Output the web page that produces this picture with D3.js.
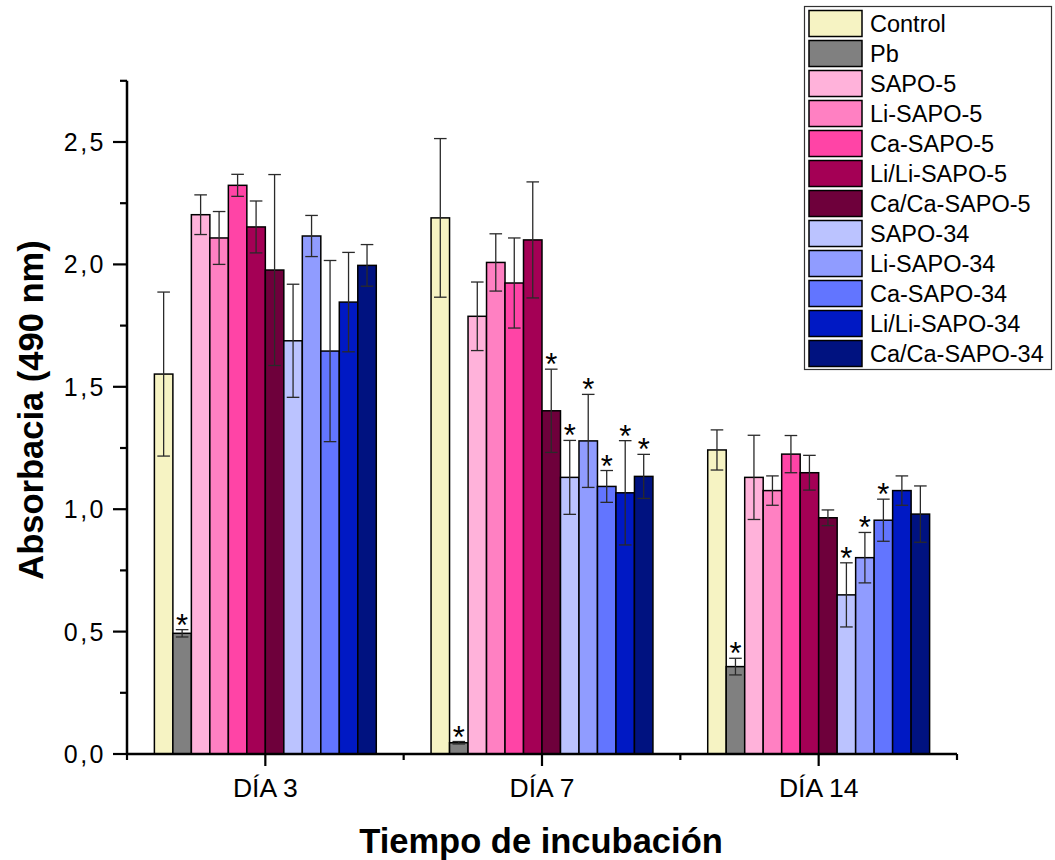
<!DOCTYPE html>
<html>
<head>
<meta charset="utf-8">
<script src="https://cdn.jsdelivr.net/npm/d3@7"></script>
<style>
  html, body { margin: 0; padding: 0; background: #fff; }
  svg { display: block; font-family: "Liberation Sans", Arial, sans-serif; }
</style>
</head>
<body>
<svg id="chart" width="1055" height="860"></svg>
<script>
// Incubation days (x categories)
const days = ["DÍA 3", "DÍA 7", "DÍA 14"];

// Treatments, in bar / legend order
const seriesNames = ["Control", "Pb", "SAPO-5", "Li-SAPO-5", "Ca-SAPO-5", "Li/Li-SAPO-5",
  "Ca/Ca-SAPO-5", "SAPO-34", "Li-SAPO-34", "Ca-SAPO-34", "Li/Li-SAPO-34", "Ca/Ca-SAPO-34"];

const seriesColors = ["#F6F3C3", "#808080", "#FFB2DA", "#FF80C2", "#FF44A6", "#A40055",
  "#6E003B", "#BBC3FF", "#909CFF", "#6275FF", "#0019C4", "#001280"];

// Mean absorbance (490 nm) per treatment: [día 3, día 7, día 14]
const meanControl   = [1.552, 2.190, 1.242];
const meanPb        = [0.493, 0.046, 0.357];
const meanSapo5     = [2.203, 1.788, 1.130];
const meanLiSapo5   = [2.108, 2.008, 1.076];
const meanCaSapo5   = [2.323, 1.924, 1.225];
const meanLiLiSapo5 = [2.153, 2.100, 1.149];
const meanCaCaSapo5 = [1.977, 1.402, 0.965];
const meanSapo34    = [1.688, 1.130, 0.650];
const meanLiSapo34  = [2.116, 1.279, 0.802];
const meanCaSapo34  = [1.646, 1.093, 0.955];
const meanLiLiSapo34 = [1.846, 1.067, 1.076];
const meanCaCaSapo34 = [1.996, 1.134, 0.980];

// Standard deviation per treatment
const sdControl   = [0.335, 0.324, 0.082];
const sdPb        = [0.015, 0.005, 0.034];
const sdSapo5     = [0.081, 0.140, 0.172];
const sdLiSapo5   = [0.108, 0.117, 0.060];
const sdCaSapo5   = [0.045, 0.184, 0.076];
const sdLiLiSapo5 = [0.106, 0.237, 0.071];
const sdCaCaSapo5 = [0.390, 0.170, 0.032];
const sdSapo34    = [0.231, 0.151, 0.131];
const sdLiSapo34  = [0.084, 0.190, 0.103];
const sdCaSapo34  = [0.370, 0.065, 0.086];
const sdLiLiSapo34 = [0.203, 0.213, 0.060];
const sdCaCaSapo34 = [0.085, 0.090, 0.115];

// Significance markers (1 = "*")
const sigControl   = [0, 0, 0];
const sigPb        = [1, 1, 1];
const sigSapo5     = [0, 0, 0];
const sigLiSapo5   = [0, 0, 0];
const sigCaSapo5   = [0, 0, 0];
const sigLiLiSapo5 = [0, 0, 0];
const sigCaCaSapo5 = [0, 1, 0];
const sigSapo34    = [0, 1, 1];
const sigLiSapo34  = [0, 1, 1];
const sigCaSapo34  = [0, 1, 1];
const sigLiLiSapo34 = [0, 1, 0];
const sigCaCaSapo34 = [0, 1, 0];

// Y axis ticks
const yTickValues = [0, 0.5, 1.0, 1.5, 2.0, 2.5];
const yTickLabels = ["0,0", "0,5", "1,0", "1,5", "2,0", "2,5"];
const yMinorTicks = [0.25, 0.75, 1.25, 1.75, 2.25, 2.75];

const means = [meanControl, meanPb, meanSapo5, meanLiSapo5, meanCaSapo5, meanLiLiSapo5,
  meanCaCaSapo5, meanSapo34, meanLiSapo34, meanCaSapo34, meanLiLiSapo34, meanCaCaSapo34];
const sds = [sdControl, sdPb, sdSapo5, sdLiSapo5, sdCaSapo5, sdLiLiSapo5,
  sdCaCaSapo5, sdSapo34, sdLiSapo34, sdCaSapo34, sdLiLiSapo34, sdCaCaSapo34];
const sigs = [sigControl, sigPb, sigSapo5, sigLiSapo5, sigCaSapo5, sigLiLiSapo5,
  sigCaCaSapo5, sigSapo34, sigLiSapo34, sigCaSapo34, sigLiLiSapo34, sigCaCaSapo34];

const rows = [];
seriesNames.forEach((name, si) => {
  days.forEach((day, di) => {
    rows.push({ name, si, day, v: means[si][di], e: sds[si][di], sig: sigs[si][di] });
  });
});

const svg = d3.select("#chart");
const plotLeft = 127, plotRight = 957, plotTop = 80.8, plotBottom = 754;

const x = d3.scaleBand().domain(days).range([plotLeft, plotRight]).paddingInner(0).paddingOuter(0);
const groupWidth = x.bandwidth() * 0.802;
const xs = d3.scaleBand().domain(seriesNames).range([0, groupWidth]).padding(0);
const y = d3.scaleLinear().domain([0, 2.75]).range([plotBottom, plotTop]);
const barX = d => x(d.day) + (x.bandwidth() - groupWidth) / 2 + xs(d.name);

// Bars
svg.append("g").selectAll("rect").data(rows).join("rect")
  .attr("x", barX)
  .attr("width", xs.bandwidth())
  .attr("y", d => y(d.v))
  .attr("height", d => y(0) - y(d.v))
  .attr("fill", d => seriesColors[d.si])
  .attr("stroke", "#000")
  .attr("stroke-width", 1.5);

// Error bars
const capHalf = 6.3;
const eg = svg.append("g").attr("stroke", "#2a2a2a").attr("stroke-width", 1.3).attr("fill", "none");
rows.forEach(d => {
  const cx = barX(d) + xs.bandwidth() / 2;
  const y1 = y(d.v + d.e), y0 = y(d.v - d.e);
  eg.append("line").attr("x1", cx).attr("x2", cx).attr("y1", y1).attr("y2", y0);
  eg.append("line").attr("x1", cx - capHalf).attr("x2", cx + capHalf).attr("y1", y1).attr("y2", y1);
  eg.append("line").attr("x1", cx - capHalf).attr("x2", cx + capHalf).attr("y1", y0).attr("y2", y0);
});

// Significance asterisks
svg.append("g").selectAll("text").data(rows.filter(d => d.sig)).join("text")
  .attr("x", d => barX(d) + xs.bandwidth() / 2)
  .attr("y", d => y(d.v + d.e) + 6)
  .attr("text-anchor", "middle")
  .attr("font-size", 31)
  .attr("fill", "#000")
  .text("*");

// Y axis
const yAxis = svg.append("g");
yAxis.append("line").attr("x1", plotLeft).attr("x2", plotLeft).attr("y1", plotBottom + 1).attr("y2", plotTop)
  .attr("stroke", "#000").attr("stroke-width", 2.5);
yAxis.selectAll("line.major").data(yTickValues).join("line").attr("class", "major")
  .attr("x1", plotLeft - 14).attr("x2", plotLeft).attr("y1", d => y(d)).attr("y2", d => y(d))
  .attr("stroke", "#000").attr("stroke-width", 2.2);
yAxis.selectAll("line.minor").data(yMinorTicks).join("line").attr("class", "minor")
  .attr("x1", plotLeft - 7).attr("x2", plotLeft).attr("y1", d => y(d)).attr("y2", d => y(d))
  .attr("stroke", "#000").attr("stroke-width", 2.2);
yAxis.selectAll("text").data(yTickValues).join("text")
  .attr("x", 106).attr("y", d => y(d) + 9)
  .attr("text-anchor", "end")
  .attr("font-size", 25)
  .attr("letter-spacing", 2.5)
  .text((d, i) => yTickLabels[i]);

// X axis
const xAxis = svg.append("g");
xAxis.append("line").attr("x1", plotLeft - 1).attr("x2", plotRight).attr("y1", plotBottom).attr("y2", plotBottom)
  .attr("stroke", "#000").attr("stroke-width", 2.5);
xAxis.selectAll("line.major").data(days).join("line").attr("class", "major")
  .attr("x1", d => x(d) + x.bandwidth() / 2).attr("x2", d => x(d) + x.bandwidth() / 2)
  .attr("y1", plotBottom).attr("y2", plotBottom + 12)
  .attr("stroke", "#000").attr("stroke-width", 2.2);
const xMinor = days.map(d => x(d)).concat([x(days[days.length - 1]) + x.bandwidth()]);
xAxis.selectAll("line.minor").data(xMinor).join("line").attr("class", "minor")
  .attr("x1", d => d).attr("x2", d => d).attr("y1", plotBottom).attr("y2", plotBottom + 6)
  .attr("stroke", "#000").attr("stroke-width", 2.2);
xAxis.selectAll("text").data(days).join("text")
  .attr("x", d => x(d) + x.bandwidth() / 2).attr("y", 797)
  .attr("text-anchor", "middle")
  .attr("font-size", 26.5)
  .text(d => d);

// Axis titles
svg.append("text")
  .attr("x", (plotLeft + plotRight) / 2 - 1).attr("y", 853)
  .attr("text-anchor", "middle")
  .attr("font-size", 34.5).attr("font-weight", "bold")
  .text("Tiempo de incubación");
svg.append("text")
  .attr("transform", "translate(43,410) rotate(-90)")
  .attr("text-anchor", "middle")
  .attr("font-size", 34.5).attr("font-weight", "bold")
  .text("Absorbacia (490 nm)");

// Legend
const legend = svg.append("g");
legend.append("rect").attr("x", 804.5).attr("y", 6.5).attr("width", 247).attr("height", 363)
  .attr("fill", "#fff").attr("stroke", "#333").attr("stroke-width", 1.2);
const li = legend.selectAll("g.item").data(seriesNames).join("g").attr("class", "item")
  .attr("transform", (d, i) => `translate(0,${10 + i * 30})`);
li.append("rect").attr("x", 809).attr("y", 0.5).attr("width", 53).attr("height", 26)
  .attr("fill", (d, i) => seriesColors[i]).attr("stroke", "#000").attr("stroke-width", 1.5);
li.append("text").attr("x", 870).attr("y", 22).attr("font-size", 23.5).text(d => d);
</script>
</body>
</html>
